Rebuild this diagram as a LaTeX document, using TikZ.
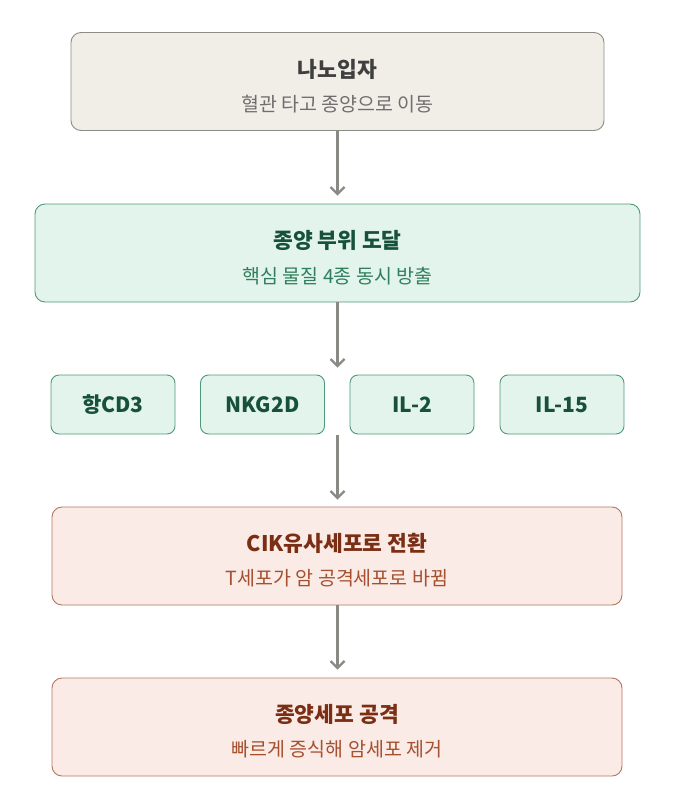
\documentclass[tikz,border=0pt]{standalone}
\usepackage{fontspec}
\setmainfont{Noto Sans CJK KR}
\usetikzlibrary{calc}
\usetikzlibrary{arrows.meta}
\usetikzlibrary{positioning}
\definecolor{greyfill}{HTML}{F1EEE8}
\definecolor{greyline}{HTML}{8C8C86}
\definecolor{greytitle}{HTML}{3F3F3F}
\definecolor{greysub}{HTML}{6E6E6E}
\definecolor{greenfill}{HTML}{E2F4EC}
\definecolor{greenline}{HTML}{4E9A78}
\definecolor{greentitle}{HTML}{17513A}
\definecolor{greensub}{HTML}{2F7F5C}
\definecolor{redfill}{HTML}{FBEBE6}
\definecolor{redline}{HTML}{B57460}
\definecolor{redtitle}{HTML}{7A2E14}
\definecolor{redsub}{HTML}{A5502F}
\definecolor{flowgrey}{HTML}{8A8A85}
\tikzstyle{stage}=[draw, rounded corners=10pt, line width=0.9pt, minimum height=98pt, inner sep=0]
\tikzstyle{greybox}=[stage, fill=greyfill, draw=greyline]
\tikzstyle{greenbox}=[stage, fill=greenfill, draw=greenline]
\tikzstyle{redbox}=[stage, fill=redfill, draw=redline]
\tikzstyle{agent}=[draw=greenline, fill=greenfill, rounded corners=8pt, line width=0.9pt,
                   minimum width=124pt, minimum height=59pt, inner sep=0,
                   text=greentitle, font=\fontsize{21}{25}\selectfont\bfseries]
\tikzstyle{ttl}=[inner sep=0, font=\fontsize{21.5}{26}\selectfont\bfseries]
\tikzstyle{sub}=[inner sep=0, font=\fontsize{19.5}{24}\selectfont]
\tikzstyle{flow}=[draw=flowgrey, line width=2.2pt, -{Straight Barb[length=7pt,width=14pt,line width=2.2pt]}]

\begin{document}
\begin{tikzpicture}[x=1pt,y=-1pt]
\useasboundingbox (0,0) rectangle (676,808);
% stages
\node[greybox, minimum width=533pt] (np) at (337.5,81.5) {};
\node[ttl, text=greytitle] (npT) at ($(np.center)+(0,-12)$) {나노입자};
\node[sub, text=greysub] (npS) at ($(np.center)+(0,22.5)$) {혈관 타고 종양으로 이동};
\node[greenbox, minimum width=605pt] (reach) at (337.5,253) {};
\node[ttl, text=greentitle] (reachT) at ($(reach.center)+(0,-13)$) {종양 부위 도달};
\node[sub, text=greensub] (reachS) at ($(reach.center)+(0,23)$) {핵심 물질 4종 동시 방출};
% released agents
\node[agent] (cd3) at (113,404.5) {항CD3};
\node[agent] (nkg) at (262.5,404.5) {NKG2D};
\node[agent] (il2) at (412,404.5) {IL-2};
\node[agent] (il15) at (562,404.5) {IL-15};
\node[redbox, minimum width=570pt] (cik) at (337,556) {};
\node[ttl, text=redtitle] (cikT) at ($(cik.center)+(0,-13)$) {CIK유사세포로 전환};
\node[sub, text=redsub] (cikS) at ($(cik.center)+(0,22)$) {T세포가 암 공격세포로 바뀜};
\node[redbox, minimum width=570pt] (attack) at (337,727) {};
\node[ttl, text=redtitle] (attackT) at ($(attack.center)+(0,-13)$) {종양세포 공격};
\node[sub, text=redsub] (attackS) at ($(attack.center)+(0,22)$) {빠르게 증식해 암세포 제거};
% arrows
\coordinate (rowin) at (reach.south |- cd3.north);
\coordinate (rowout) at (reach.south |- cd3.south);
\draw[flow, shorten >=8pt] (np.south) -- (reach.north);
\draw[flow, shorten >=7pt] (reach.south) -- (rowin);
\draw[flow, shorten <=1pt, shorten >=7pt] (rowout) -- (cik.north -| rowout);
\draw[flow, shorten >=8pt] (cik.south -| rowout) -- (attack.north -| rowout);
\end{tikzpicture}
\end{document}
